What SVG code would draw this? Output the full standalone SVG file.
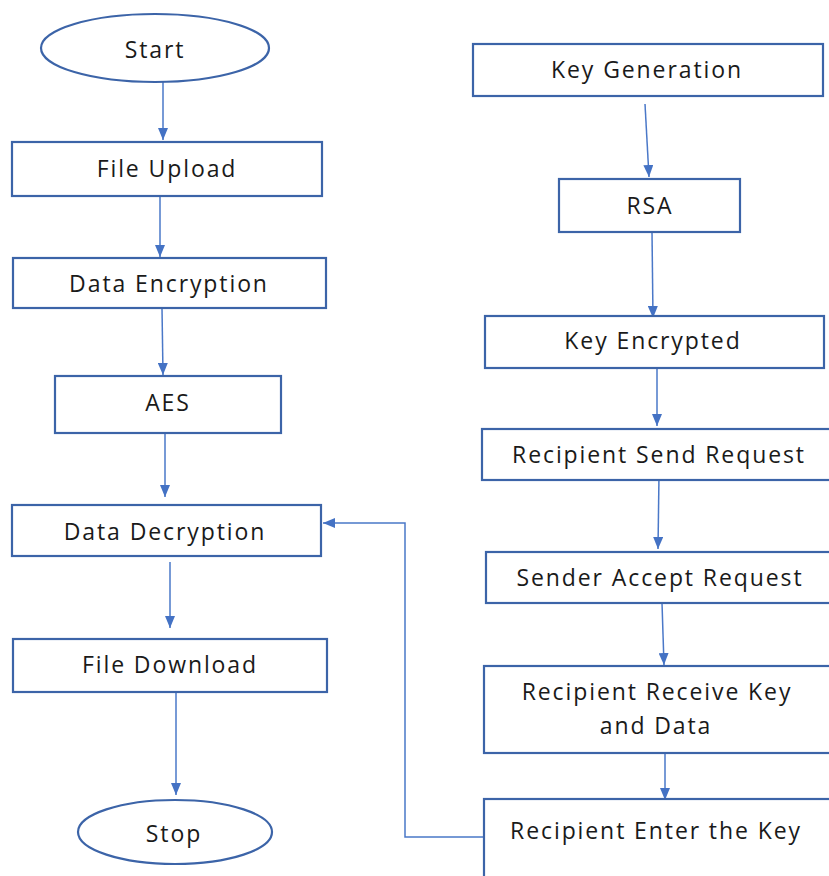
<svg xmlns="http://www.w3.org/2000/svg" width="829" height="876" viewBox="0 0 829 876">
<defs>
<style>
.n{fill:#fff;stroke:#3c64a8;stroke-width:2.2}
.t{font-family:"Open Sans","Noto Sans",sans-serif;font-size:23px;fill:#1a1a1a;text-anchor:middle;letter-spacing:1.9px}
.c{fill:none;stroke:#4a78c8;stroke-width:1.5}
</style>
<marker id="ah" viewBox="0 0 12 10" refX="12" refY="5" markerWidth="12" markerHeight="10" markerUnits="userSpaceOnUse" orient="auto">
<path d="M0,0L12,5L0,10z" fill="#4472c4"/>
</marker>
</defs>
<rect width="829" height="876" fill="#fff"/>
<g id="connectors">
<line class="c" x1="163" y1="82" x2="163" y2="140" marker-end="url(#ah)"/>
<line class="c" x1="160" y1="196" x2="160" y2="257" marker-end="url(#ah)"/>
<line class="c" x1="162" y1="308" x2="163" y2="375" marker-end="url(#ah)"/>
<line class="c" x1="165" y1="433" x2="165" y2="497" marker-end="url(#ah)"/>
<line class="c" x1="170" y1="562" x2="170" y2="628" marker-end="url(#ah)"/>
<line class="c" x1="176" y1="692" x2="176" y2="795" marker-end="url(#ah)"/>
<line class="c" x1="645" y1="104" x2="649" y2="177" marker-end="url(#ah)"/>
<line class="c" x1="652" y1="232" x2="653" y2="318" marker-end="url(#ah)"/>
<line class="c" x1="657" y1="369" x2="657" y2="426" marker-end="url(#ah)"/>
<line class="c" x1="659" y1="475" x2="658" y2="549" marker-end="url(#ah)"/>
<line class="c" x1="662" y1="603" x2="664" y2="665" marker-end="url(#ah)"/>
<line class="c" x1="665" y1="753" x2="665" y2="800" marker-end="url(#ah)"/>
<polyline class="c" points="484,837 405,837 405,523 323,523" marker-end="url(#ah)"/>
</g>
<g id="start"><ellipse class="n" cx="155" cy="48" rx="114" ry="34"/><text class="t" x="155" y="58">Start</text></g>
<g id="file-upload"><rect class="n" x="12" y="142" width="310" height="54"/><text class="t" x="167" y="177">File Upload</text></g>
<g id="data-encryption"><rect class="n" x="13" y="258" width="313" height="50"/><text class="t" x="169" y="292">Data Encryption</text></g>
<g id="aes"><rect class="n" x="55" y="376" width="226" height="57"/><text class="t" x="168" y="411">AES</text></g>
<g id="data-decryption"><rect class="n" x="12" y="505" width="309" height="51"/><text class="t" x="165" y="540">Data Decryption</text></g>
<g id="file-download"><rect class="n" x="13" y="639" width="314" height="53"/><text class="t" x="170" y="673">File Download</text></g>
<g id="stop"><ellipse class="n" cx="175" cy="832" rx="97" ry="32"/><text class="t" x="174" y="842">Stop</text></g>
<g id="key-generation"><rect class="n" x="473" y="44" width="350" height="52"/><text class="t" x="647" y="78">Key Generation</text></g>
<g id="rsa"><rect class="n" x="559" y="179" width="181" height="53"/><text class="t" x="650" y="214">RSA</text></g>
<g id="key-encrypted"><rect class="n" x="485" y="316" width="339" height="52"/><text class="t" x="653" y="349">Key Encrypted</text></g>
<g id="recipient-send-request"><rect class="n" x="482" y="429" width="350" height="51"/><text class="t" x="659" y="463">Recipient Send Request</text></g>
<g id="sender-accept-request"><rect class="n" x="486" y="552" width="346" height="51"/><text class="t" x="660" y="586">Sender Accept Request</text></g>
<g id="recipient-receive"><rect class="n" x="484" y="666" width="348" height="87"/><text class="t" x="657" y="700">Recipient Receive Key</text><text class="t" x="656" y="734">and Data</text></g>
<g id="recipient-enter-key"><rect class="n" x="484" y="799" width="348" height="90"/><text class="t" x="656" y="839">Recipient Enter the Key</text></g>
</svg>
